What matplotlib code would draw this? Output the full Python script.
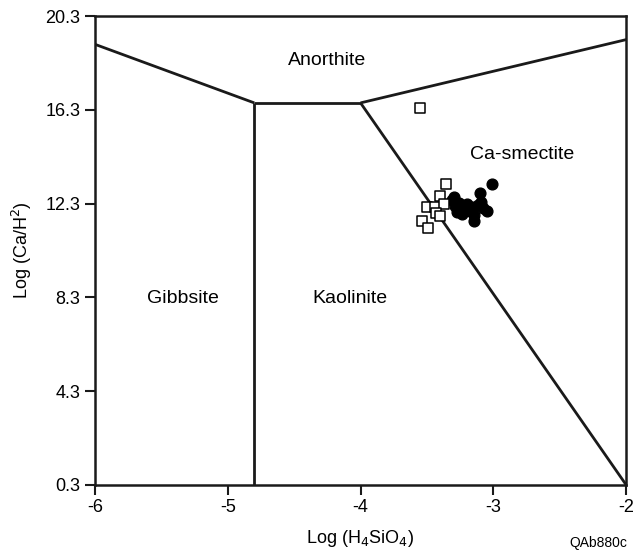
import numpy as np
import matplotlib
matplotlib.use("Agg")
import matplotlib.pyplot as plt

plt.rcParams['font.family'] = ['Liberation Sans', 'DejaVu Sans']

# stability field boundaries (x = log H4SiO4, y = log Ca/H2)
gib_anor_x = [-6.0, -4.8]
gib_anor_y = [19.1, 16.6]
kao_anor_x = [-4.8, -4.0]
kao_anor_y = [16.6, 16.6]
smec_anor_x = [-4.0, -2.0]
smec_anor_y = [16.6, 19.3]
kao_smec_x = [-4.0, -2.0]
kao_smec_y = [16.6, 0.3]
gib_kao_x = [-4.8, -4.8]
gib_kao_y = [16.6, 0.3]

# open squares
sq_x = [-3.55, -3.36, -3.40, -3.50, -3.44, -3.37, -3.43, -3.40, -3.54, -3.49]
sq_y = [16.4, 13.14, 12.62, 12.15, 12.15, 12.28, 11.90, 11.77, 11.56, 11.26]

# filled circles
ci_x = [-3.007, -3.097, -3.313, -3.291, -3.261, -3.231, -3.201, -3.179, -3.149,
        -3.142, -3.119, -3.090, -3.075, -3.045, -3.276, -3.239, -3.299, -3.164]
ci_y = [13.14, 12.75, 12.46, 12.20, 12.33, 12.11, 12.28, 11.98, 11.81,
        11.56, 12.24, 12.37, 12.11, 11.98, 11.94, 11.86, 12.58, 12.15]

xticks = [-6, -5, -4, -3, -2]
yticks = [0.3, 4.3, 8.3, 12.3, 16.3, 20.3]

fig = plt.figure(figsize=(6.37, 5.58), dpi=100)
ax = fig.add_axes([0.149, 0.131, 0.834, 0.840])

lc = '#1a1a1a'
for xs, ys in [(gib_anor_x, gib_anor_y), (kao_anor_x, kao_anor_y),
               (smec_anor_x, smec_anor_y), (kao_smec_x, kao_smec_y),
               (gib_kao_x, gib_kao_y)]:
    ax.plot(xs, ys, color=lc, lw=2.0, solid_capstyle='butt', zorder=2)

ax.scatter(ci_x, ci_y, s=60, color='black', zorder=3)
ax.scatter(sq_x, sq_y, s=50, marker='s', facecolor='white',
           edgecolor='black', linewidth=1.1, zorder=4)

ax.text(-4.25, 18.4, 'Anorthite', fontsize=14, ha='center', va='center')
ax.text(-2.78, 14.4, 'Ca-smectite', fontsize=14, ha='center', va='center')
ax.text(-5.34, 8.27, 'Gibbsite', fontsize=14, ha='center', va='center')
ax.text(-4.08, 8.27, 'Kaolinite', fontsize=14, ha='center', va='center')

ax.set_xlim(-6, -2)
ax.set_ylim(0.3, 20.3)
ax.set_xticks(xticks)
ax.set_xticklabels([str(t) for t in xticks])
ax.set_yticks(yticks)
ax.set_yticklabels([str(t) for t in yticks])
ax.tick_params(direction='out', length=7, width=1.5, labelsize=13, color=lc)

for s in ax.spines.values():
    s.set_linewidth(1.8)
    s.set_color(lc)

ax.set_xlabel('Log (H$_4$SiO$_4$)', fontsize=13, labelpad=8)
ax.set_ylabel('Log (Ca/H$^2$)', fontsize=13, labelpad=8)

fig.text(0.985, 0.015, 'QAb880c', fontsize=10, ha='right', va='bottom')

fig.savefig('out.png', dpi=100)
